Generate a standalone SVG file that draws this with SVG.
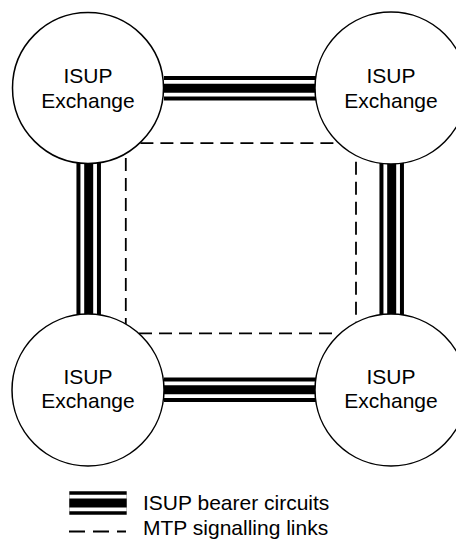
<svg xmlns="http://www.w3.org/2000/svg" width="456" height="540" viewBox="0 0 456 540">
  <style>
    .node { fill: #ffffff; stroke: #000000; stroke-width: 1.5; }
    .label { font-family: "Liberation Sans", Arial, sans-serif; font-size: 21px; fill: #000000; text-anchor: middle; }
    .legend { font-family: "Liberation Sans", Arial, sans-serif; font-size: 21px; fill: #000000; }
    .b-out { stroke: #000000; stroke-width: 24.5; fill: none; }
    .b-gap { stroke: #ffffff; stroke-width: 16.5; fill: none; }
    .b-in { stroke: #000000; stroke-width: 9; fill: none; }
    .mtp { stroke: #000000; stroke-width: 1.8; fill: none; stroke-dasharray: 13 7; }
  </style>

  <g id="connectors">
    <!-- ISUP bearer circuits -->
    <g id="bearer-top">
      <line class="b-out" x1="164" y1="88.2" x2="316" y2="88.2"/>
      <line class="b-gap" x1="164" y1="88.2" x2="316" y2="88.2"/>
      <line class="b-in" x1="164" y1="88.2" x2="316" y2="88.2"/>
    </g>
    <g id="bearer-bottom">
      <line class="b-out" x1="164" y1="389.7" x2="316" y2="389.7"/>
      <line class="b-gap" x1="164" y1="389.7" x2="316" y2="389.7"/>
      <line class="b-in" x1="164" y1="389.7" x2="316" y2="389.7"/>
    </g>
    <g id="bearer-left">
      <line class="b-out" x1="88.7" y1="162" x2="88.7" y2="315"/>
      <line class="b-gap" x1="88.7" y1="162" x2="88.7" y2="315"/>
      <line class="b-in" x1="88.7" y1="162" x2="88.7" y2="315"/>
    </g>
    <g id="bearer-right">
      <line class="b-out" x1="391.7" y1="162" x2="391.7" y2="315"/>
      <line class="b-gap" x1="391.7" y1="162" x2="391.7" y2="315"/>
      <line class="b-in" x1="391.7" y1="162" x2="391.7" y2="315"/>
    </g>
    <!-- MTP signalling links -->
    <line class="mtp" x1="140.4" y1="143.2" x2="333.4" y2="143.2"/>
    <line class="mtp" x1="139" y1="333.3" x2="333" y2="333.3"/>
    <line class="mtp" x1="125.8" y1="158" x2="125.8" y2="324.2"/>
    <line class="mtp" x1="356" y1="161.7" x2="356" y2="322.5"/>
  </g>

  <g id="node-top-left">
    <circle class="node" cx="88" cy="88" r="75.5"/>
    <text class="label" x="88" y="83.3">ISUP</text>
    <text class="label" x="88" y="107.5">Exchange</text>
  </g>
  <g id="node-top-right">
    <circle class="node" cx="391" cy="88" r="76"/>
    <text class="label" x="391" y="83.3">ISUP</text>
    <text class="label" x="391" y="107.5">Exchange</text>
  </g>
  <g id="node-bottom-left">
    <circle class="node" cx="88" cy="390" r="76"/>
    <text class="label" x="88" y="383.5">ISUP</text>
    <text class="label" x="88" y="408">Exchange</text>
  </g>
  <g id="node-bottom-right">
    <circle class="node" cx="391" cy="390" r="76"/>
    <text class="label" x="391" y="383.5">ISUP</text>
    <text class="label" x="391" y="408">Exchange</text>
  </g>

  <g id="legend">
    <g id="legend-bearer">
      <line class="b-out" x1="69.3" y1="503" x2="126.7" y2="503" style="stroke-width:23.5"/>
      <line class="b-gap" x1="69.3" y1="503" x2="126.7" y2="503" style="stroke-width:16.5"/>
      <line class="b-in" x1="69.3" y1="503" x2="126.7" y2="503"/>
      <text class="legend" x="143" y="509.5">ISUP bearer circuits</text>
    </g>
    <g id="legend-mtp">
      <line class="mtp" x1="69" y1="531.5" x2="126" y2="531.5" style="stroke-dasharray:16 8"/>
      <text class="legend" x="143" y="535.3">MTP signalling links</text>
    </g>
  </g>
</svg>
